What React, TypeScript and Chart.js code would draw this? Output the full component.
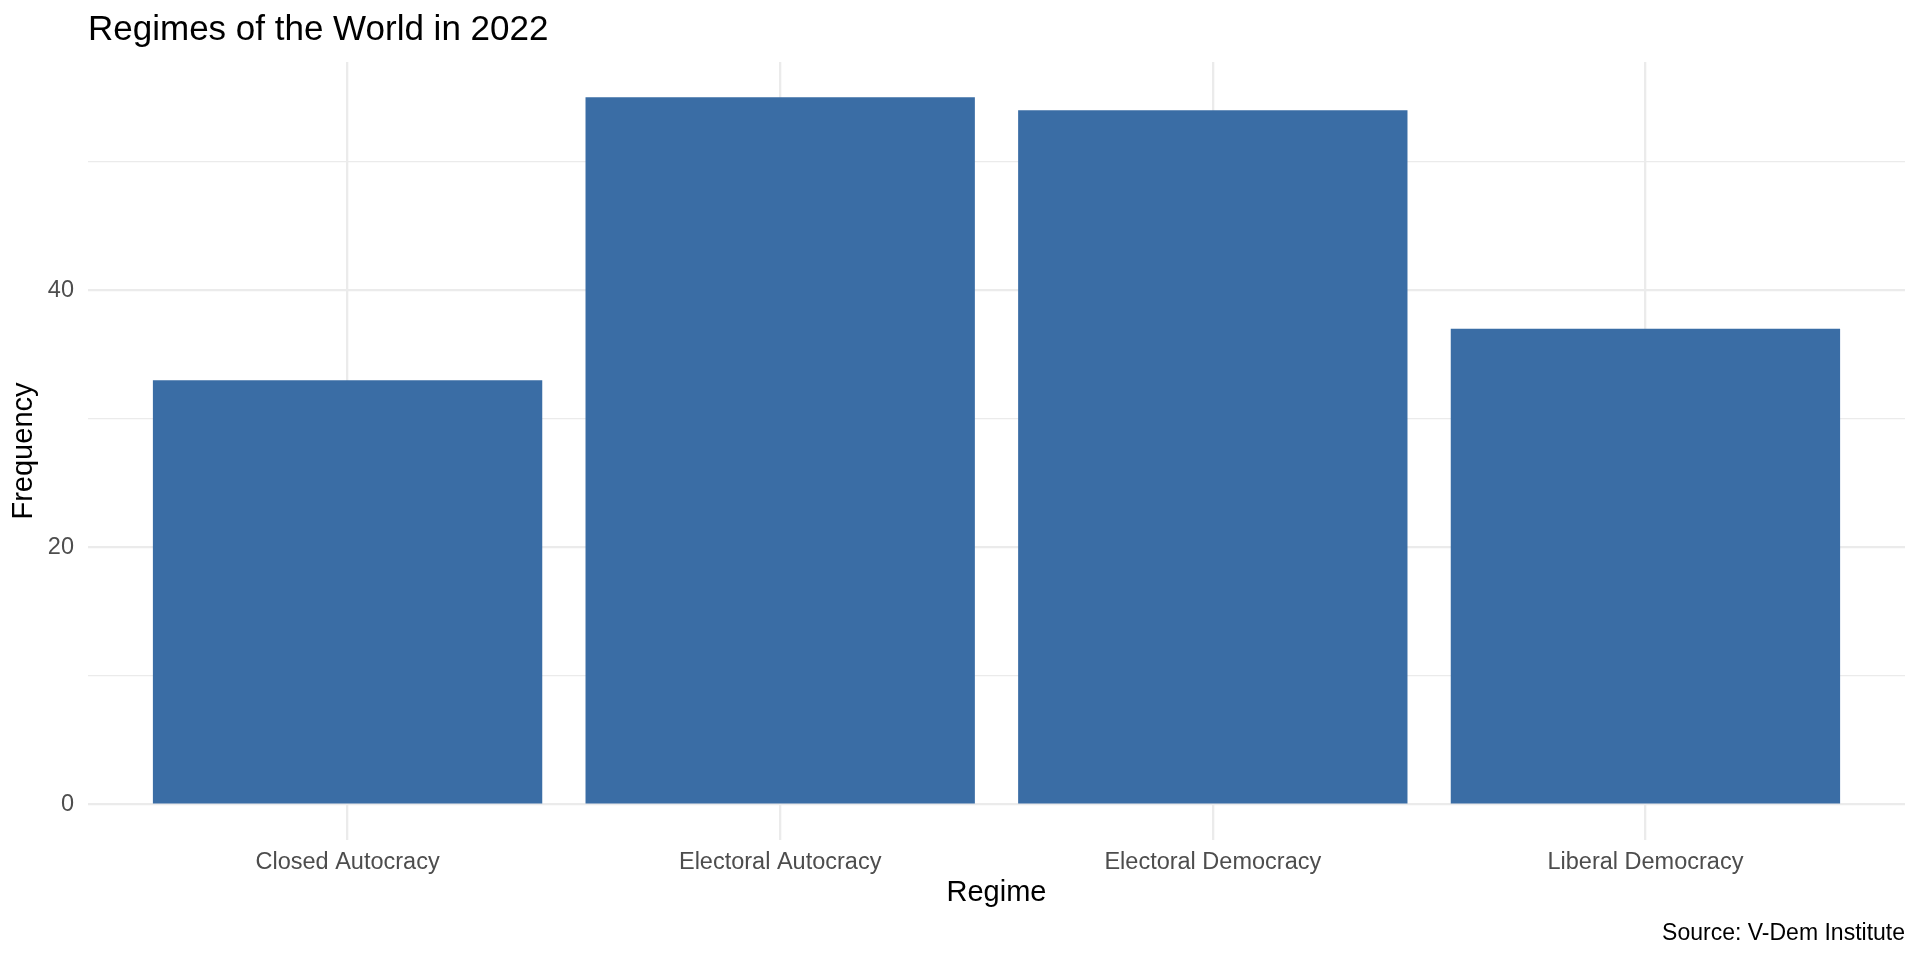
import { Chart, registerables } from "chart.js";
import React, { useEffect, useRef } from "react";

Chart.register(...registerables);

const categories = [
  "Closed Autocracy",
  "Electoral Autocracy",
  "Electoral Democracy",
  "Liberal Democracy",
];
const frequencies = [33, 55, 54, 37];
const yGridValues = [0, 10, 20, 30, 40, 50];
const yLabelStep = 20;

const chartTitle = "Regimes of the World in 2022";
const xTitle = "Regime";
const yTitle = "Frequency";
const caption = "Source: V-Dem Institute";

const FONT = '"Liberation Sans", Arial, Helvetica, sans-serif';
const BAR_COLOR = "#3A6DA5";
const GRID_COLOR = "#EBEBEB";

// title + caption drawn like ggplot: title flush with panel, caption right-aligned
const ggTextPlugin = {
  id: "ggText",
  afterDraw(chart: Chart) {
    const { ctx, chartArea } = chart;
    ctx.save();
    ctx.fillStyle = "#000000";
    ctx.textBaseline = "alphabetic";
    ctx.font = `35px ${FONT}`;
    ctx.textAlign = "left";
    ctx.fillText(chartTitle, chartArea.left, 40);
    ctx.font = `23px ${FONT}`;
    ctx.textAlign = "right";
    ctx.fillText(caption, chartArea.right, 940);
    ctx.restore();
  },
};

const App: React.FC = () => {
  const canvasRef = useRef<HTMLCanvasElement | null>(null);

  useEffect(() => {
    document.body.style.margin = "0";
    if (!canvasRef.current) return;

    const yPad = Math.max(...frequencies) * 0.05;

    const chart = new Chart(canvasRef.current, {
      type: "bar",
      data: {
        datasets: [
          {
            label: yTitle,
            data: frequencies.map((v, i) => ({ x: i, y: v })),
            backgroundColor: BAR_COLOR,
            borderWidth: 0,
            categoryPercentage: 1,
            barPercentage: 0.9,
          },
        ],
      },
      options: {
        animation: false,
        responsive: true,
        maintainAspectRatio: false,
        layout: { padding: { top: 62, right: 15, bottom: 0, left: 0 } },
        plugins: {
          legend: { display: false },
          tooltip: { enabled: false },
          title: { display: false },
        },
        scales: {
          x: {
            type: "linear",
            offset: false,
            min: -0.6,
            max: categories.length - 1 + 0.6,
            afterBuildTicks: (axis: any) => {
              axis.ticks = categories.map((_, i) => ({ value: i }));
            },
            afterFit: (axis: any) => {
              axis.height = 120;
            },
            grid: {
              color: GRID_COLOR,
              lineWidth: 2.3,
              drawTicks: false,
              offset: false,
            },
            border: { display: false },
            ticks: {
              color: "#4D4D4D",
              font: { family: FONT, size: 23.5 },
              padding: 8,
              maxRotation: 0,
              autoSkip: false,
              callback: (v: any) => categories[Number(v)] ?? "",
            },
            title: {
              display: true,
              text: xTitle,
              color: "#000000",
              font: { family: FONT, size: 29 },
              padding: { top: 0, bottom: 49.6 },
            },
          },
          y: {
            type: "linear",
            min: -yPad,
            max: Math.max(...frequencies) + yPad,
            afterBuildTicks: (axis: any) => {
              axis.ticks = yGridValues.map((v) => ({ value: v }));
            },
            afterFit: (axis: any) => {
              axis.width = 88;
            },
            grid: {
              color: GRID_COLOR,
              drawTicks: false,
              lineWidth: (ctx: any) =>
                ctx.tick && ctx.tick.value % yLabelStep === 0 ? 2.3 : 1.15,
            },
            border: { display: false },
            ticks: {
              color: "#4D4D4D",
              font: { family: FONT, size: 23.5 },
              padding: 14,
              callback: (v: any) =>
                Number(v) % yLabelStep === 0 ? String(v) : "",
            },
            title: {
              display: true,
              text: yTitle,
              color: "#000000",
              font: { family: FONT, size: 29 },
              padding: { top: 7, bottom: 0 },
            },
          },
        },
      },
      plugins: [ggTextPlugin],
    });

    return () => {
      chart.destroy();
    };
  }, []);

  return (
    <div
      style={{
        position: "fixed",
        left: 0,
        top: 0,
        width: 1920,
        height: 960,
        background: "#ffffff",
      }}
    >
      <canvas ref={canvasRef} />
    </div>
  );
};

export default App;
